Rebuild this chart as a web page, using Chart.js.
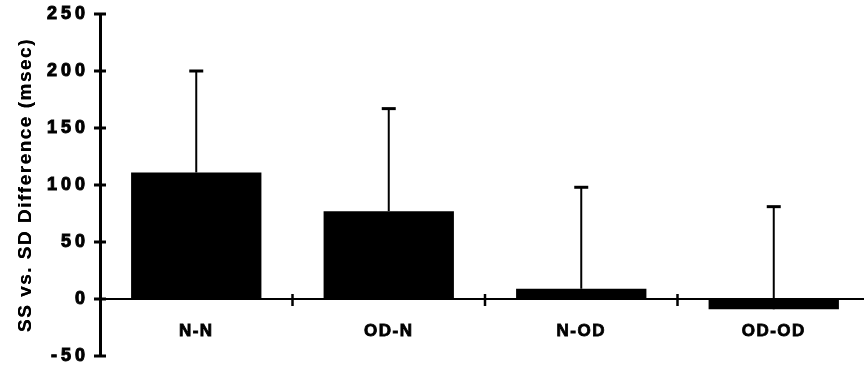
<!DOCTYPE html>
<html>
<head>
<meta charset="utf-8">
<script src="https://cdn.jsdelivr.net/npm/chart.js@4/dist/chart.umd.min.js"></script>
<style>
  html, body { margin: 0; padding: 0; background: #fff; overflow: hidden; }
  #wrap { width: 870px; height: 370px; }
</style>
</head>
<body>
<div id="wrap"><canvas id="chart" width="870" height="370"></canvas></div>
<script>
const categories = ['N-N', 'OD-N', 'N-OD', 'OD-OD'];
const meanDiff = [111, 77, 9, -9];
const sdDiff = [89, 90, 89, 90];
const yTicks = [-50, 0, 50, 100, 150, 200, 250];
const yTitle = 'SS vs. SD Difference (msec)';

const FONT = "'Liberation Sans', Arial, Helvetica, sans-serif";

// spread the glyphs a little, like the scanned figure
const spacingPlugin = {
    id: 'spacing',
    beforeDraw(chart) {
        const y = chart.scales.y, x = chart.scales.x;
        if (!y._spaced) {
            const yLabels = y.drawLabels, yTitleDraw = y.drawTitle, xLabels = x.drawLabels;
            y.drawLabels = function (area) { this.ctx.letterSpacing = '4px'; yLabels.call(this, area); this.ctx.letterSpacing = '0px'; };
            y.drawTitle = function () {
                const ctx = this.ctx;
                ctx.save();
                ctx.letterSpacing = '1.5px';
                yTitleDraw.call(this);
                ctx.translate(0.7, 0);   // second pass, heavier like the print
                yTitleDraw.call(this);
                ctx.restore();
            };
            x.drawLabels = function (area) { this.ctx.letterSpacing = '1.5px'; xLabels.call(this, area); this.ctx.letterSpacing = '0px'; };
            y._spaced = true;
        }
    }
};

// one-sided error bars plus the crossing tick marks on both axes
const marksPlugin = {
    id: 'marks',
    afterDatasetsDraw(chart) {
        const ctx = chart.ctx;
        const xs = chart.scales.x, ys = chart.scales.y;
        const left = chart.chartArea.left;
        const y0 = ys.getPixelForValue(0);
        ctx.save();
        ctx.strokeStyle = '#000';

        ctx.lineWidth = 3;
        yTicks.forEach(v => {
            const py = ys.getPixelForValue(v);
            ctx.beginPath();
            ctx.moveTo(left - 6, py);
            ctx.lineTo(left + 6, py);
            ctx.stroke();
        });

        ctx.lineWidth = 2.5;
        for (let i = 1; i < categories.length; i++) {
            const px = (xs.getPixelForValue(i - 1) + xs.getPixelForValue(i)) / 2;
            ctx.beginPath();
            ctx.moveTo(px, y0 - 5);
            ctx.lineTo(px, y0 + 7);
            ctx.stroke();
        }

        const meta = chart.getDatasetMeta(0);
        meta.data.forEach((bar, i) => {
            const yBase = ys.getPixelForValue(meanDiff[i]);
            const yTop = ys.getPixelForValue(meanDiff[i] + sdDiff[i]);
            ctx.lineWidth = 2;
            ctx.beginPath();
            ctx.moveTo(bar.x, yBase);
            ctx.lineTo(bar.x, yTop);
            ctx.stroke();
            ctx.lineWidth = 3;
            ctx.beginPath();
            ctx.moveTo(bar.x - 7, yTop);
            ctx.lineTo(bar.x + 7, yTop);
            ctx.stroke();
        });
        ctx.restore();
    }
};

new Chart(document.getElementById('chart'), {
    type: 'bar',
    data: {
        labels: categories,
        datasets: [{
            data: meanDiff,
            backgroundColor: '#000',
            borderWidth: 0,
            barPercentage: 0.677,
            categoryPercentage: 1
        }]
    },
    options: {
        responsive: false,
        animation: false,
        devicePixelRatio: 1,
        layout: { padding: { left: 0, top: 14, right: 0, bottom: 14 } },
        plugins: {
            legend: { display: false },
            tooltip: { enabled: false }
        },
        scales: {
            x: {
                type: 'category',
                position: { y: 0 },
                afterFit: scale => { scale.paddingLeft = 0; scale.paddingRight = 0; },
                grid: { display: false, drawTicks: false },
                border: { display: true, color: '#000', width: 2 },
                ticks: {
                    color: '#000',
                    padding: 22,
                    textStrokeColor: '#000',
                    textStrokeWidth: 0.8,
                    font: { family: FONT, size: 17, weight: 'bold' }
                }
            },
            y: {
                min: -50,
                max: 250,
                afterBuildTicks: scale => { scale.ticks = yTicks.map(v => ({ value: v })); },
                afterFit: scale => { scale.width = 100; scale.paddingTop = 0; scale.paddingBottom = 0; },
                grid: { display: false, drawTicks: false },
                border: { display: true, color: '#000', width: 3 },
                ticks: {
                    color: '#000',
                    padding: 11,
                    textStrokeColor: '#000',
                    textStrokeWidth: 1,
                    font: { family: FONT, size: 18, weight: 'bold' }
                },
                title: {
                    display: true,
                    text: yTitle,
                    color: '#000',
                    padding: { top: 14, bottom: 0 },
                    font: { family: FONT, size: 19, weight: 'bold' }
                }
            }
        }
    },
    plugins: [spacingPlugin, marksPlugin]
});
</script>
</body>
</html>
